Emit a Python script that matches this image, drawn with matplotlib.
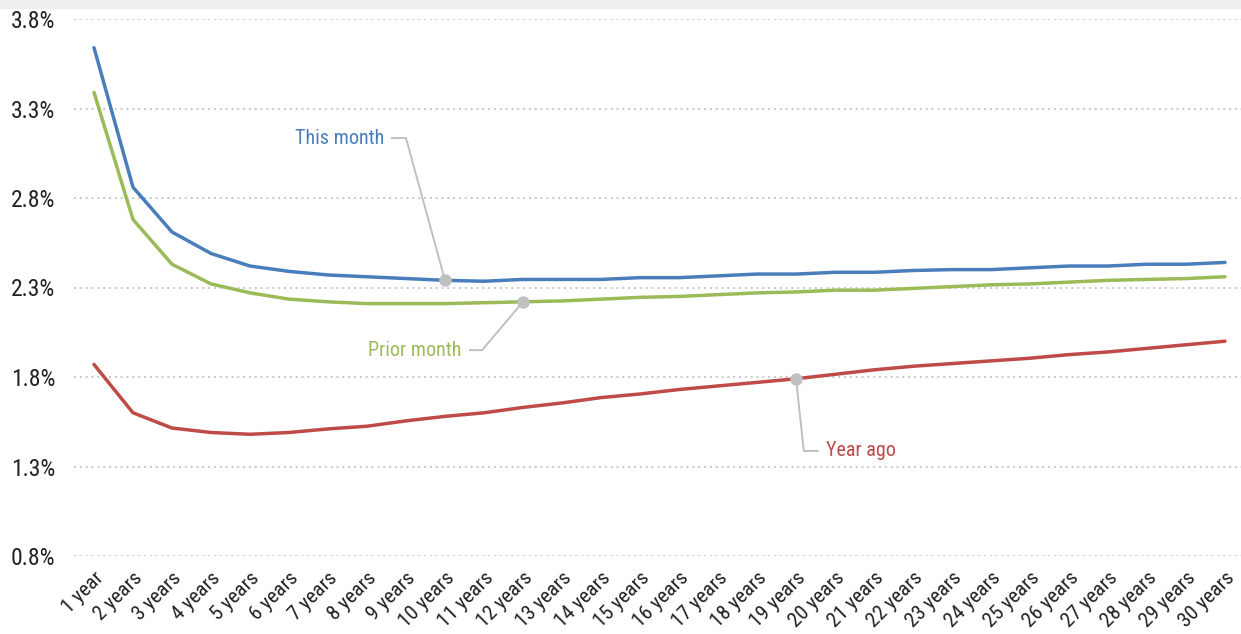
import numpy as np
import matplotlib.pyplot as plt
from matplotlib.patches import Rectangle

plt.rcParams['font.family'] = ['Roboto Condensed', 'Liberation Sans Narrow',
                               'Arial Narrow', 'DejaVu Sans']

# plazos de la curva
tenors = ['1 year'] + ['%d years' % i for i in range(2, 31)]

this_month = [3.64, 2.86, 2.61, 2.49, 2.42, 2.39, 2.37, 2.36, 2.35, 2.34,
              2.335, 2.345, 2.345, 2.345, 2.355, 2.355, 2.365, 2.375, 2.375, 2.385,
              2.385, 2.395, 2.40, 2.40, 2.41, 2.42, 2.42, 2.43, 2.43, 2.44]
prior_month = [3.39, 2.68, 2.43, 2.32, 2.27, 2.235, 2.22, 2.21, 2.21, 2.21,
               2.215, 2.22, 2.225, 2.235, 2.245, 2.25, 2.26, 2.27, 2.275, 2.285,
               2.285, 2.295, 2.305, 2.315, 2.32, 2.33, 2.34, 2.345, 2.35, 2.36]
year_ago = [1.87, 1.60, 1.515, 1.49, 1.48, 1.49, 1.51, 1.525, 1.555, 1.58,
            1.60, 1.63, 1.655, 1.685, 1.705, 1.73, 1.75, 1.77, 1.79, 1.815,
            1.84, 1.86, 1.875, 1.89, 1.905, 1.925, 1.94, 1.96, 1.98, 2.00]

yticks = [0.8, 1.3, 1.8, 2.3, 2.8, 3.3, 3.8]

BLUE = '#4a7ebb'
GREEN = '#9bbb59'
RED = '#be4b48'
GREY = '#c0c0c0'

x = np.arange(1, len(tenors) + 1)

fig = plt.figure(figsize=(12.41, 6.34), dpi=100)
fig.patches.append(Rectangle((0, 634 - 8), 1241, 8, transform=None,
                             color='#efefef', zorder=0))
ax = fig.add_axes([74 / 1241, 78 / 634, 1 - 74 / 1241, (556 - 19) / 634])

for v in yticks:
    ax.axhline(v, color='#c8c8c8', lw=1.4, ls=(0, (1, 2)), zorder=0)

ax.plot(x, this_month, color=BLUE, lw=2.5, solid_capstyle='round')
ax.plot(x, prior_month, color=GREEN, lw=2.5, solid_capstyle='round')
ax.plot(x, year_ago, color=RED, lw=2.5, solid_capstyle='round')

# etiquetas con linea guia: (serie, indice, texto, color, codo, fin del tramo, texto x, alineacion)
labels = [
    (this_month, 9, 'This month', BLUE, (9.0, 3.135), 8.64, 8.44, 'right'),
    (prior_month, 11, 'Prior month', GREEN, (10.95, 1.95), 10.64, 10.41, 'right'),
    (year_ago, 18, 'Year ago', RED, (19.2, 1.387), 19.56, 19.77, 'left'),
]
for serie, i, txt, col, (ex, ey), hx, tx, ha in labels:
    ax.plot([x[i], ex, hx], [serie[i], ey, ey], color=GREY, lw=1.4, zorder=3)
    ax.plot(x[i], serie[i], 'o', color=GREY, ms=8, zorder=4)
    ax.text(tx, ey, txt, color=col, fontsize=14.5, ha=ha, va='center')

ax.set_xlim(1 - 20 / 39, 30 + 16 / 39)
ax.set_ylim(0.8, 3.8)
ax.set_yticks(yticks)
ax.set_yticklabels(['%.1f%%' % v for v in yticks], fontsize=17, color='#222222')
ax.set_xticks(x)
ax.set_xticklabels(tenors, fontsize=15, rotation=45, ha='right',
                   rotation_mode='anchor', color='#222222')
ax.tick_params(length=0, pad=9)
ax.tick_params(axis='y', pad=13.5)
for s in ax.spines.values():
    s.set_visible(False)

plt.savefig('out.png', dpi=100)
